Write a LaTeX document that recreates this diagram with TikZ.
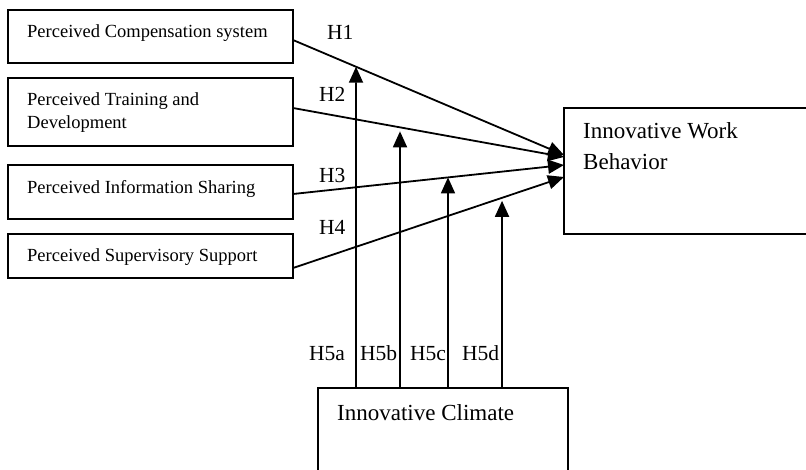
\documentclass[tikz,border=0pt]{standalone}
\usepackage{fontspec}
\setmainfont{Liberation Serif}
\usepackage{tikz}
\usetikzlibrary{arrows.meta, calc, positioning}
\newcommand{\smallfs}{\fontsize{18.5}{23}\selectfont}
\newcommand{\bigfs}{\fontsize{23}{31}\selectfont}
\newcommand{\hypfs}{\fontsize{21.5}{24}\selectfont}

\begin{document}
\begin{tikzpicture}[x=1pt, y=-1pt,
	box/.style={draw, line width=1.3pt, anchor=north west, inner sep=0pt, outer sep=0pt, minimum width=285pt},
	boxtext/.style={anchor=north west, inner sep=0pt, align=left, font=\smallfs},
	bigtext/.style={anchor=north west, inner sep=0pt, align=left, font=\bigfs},
	hyp/.style={line width=1.8pt, -{Triangle[length=16pt, width=14pt]}},
	hyplabel/.style={anchor=base west, inner sep=0pt, font=\hypfs}]

	\useasboundingbox (0,0) rectangle (806,470);
	\clip (0,0) rectangle (806,470);

	\node[box, minimum height=53pt] (pcs) at (8,10) {};
	\node[box, minimum height=68pt] (ptd) at (8,78) {};
	\node[box, minimum height=54pt] (pis) at (8,165) {};
	\node[box, minimum height=44pt] (pss) at (8,234) {};
	\node[box, minimum width=260pt, minimum height=126pt] (iwb) at (564,108) {};
	\node[box, minimum width=250pt, minimum height=120pt] (clim) at (318,388) {};

	\node[boxtext] (pcs-t) at ([xshift=19pt, yshift=-14.5pt]pcs.north west) {Perceived Compensation system};
	\node[boxtext] (ptd-t) at ([xshift=19pt, yshift=-14.5pt]ptd.north west) {Perceived Training and\\Development};
	\node[boxtext] (pis-t) at ([xshift=19pt, yshift=-15.5pt]pis.north west) {Perceived Information Sharing};
	\node[boxtext] (pss-t) at ([xshift=19pt, yshift=-14.5pt]pss.north west) {Perceived Supervisory Support};
	\node[bigtext] (iwb-t) at ([xshift=19pt, yshift=-14.5pt]iwb.north west) {Innovative Work\\Behavior};
	\node[bigtext] (clim-t) at ([xshift=19pt, yshift=-16.5pt]clim.north west) {Innovative Climate};

	\coordinate (s1) at ([yshift=-3.5pt]pcs.east);
	\coordinate (s2) at ([yshift=4pt]ptd.east);
	\coordinate (s3) at ([yshift=-2pt]pis.east);
	\coordinate (s4) at ([yshift=-12pt]pss.east);
	\coordinate (t1) at ([yshift=16pt]iwb.west);
	\coordinate (t2) at ([yshift=14pt]iwb.west);
	\coordinate (t3) at ([yshift=6pt]iwb.west);
	\coordinate (t4) at ([yshift=-6pt]iwb.west);

	\draw[hyp] (s1) -- (t1);
	\draw[hyp] (s2) -- (t2);
	\draw[hyp] (s3) -- (t3);
	\draw[hyp] (s4) -- (t4);

	\coordinate (m1) at ([xshift=38pt]clim.north west);
	\coordinate (m2) at ([xshift=82pt]clim.north west);
	\coordinate (m3) at ([xshift=130pt]clim.north west);
	\coordinate (m4) at ([xshift=184pt]clim.north west);
	\coordinate (u1) at ([yshift=10pt]m1);
	\coordinate (u2) at ([yshift=10pt]m2);
	\coordinate (u3) at ([yshift=10pt]m3);
	\coordinate (u4) at ([yshift=10pt]m4);
	\coordinate (k1) at (intersection of s1--t1 and m1--u1);
	\coordinate (k2) at (intersection of s2--t2 and m2--u2);
	\coordinate (k3) at (intersection of s3--t3 and m3--u3);
	\coordinate (k4) at (intersection of s4--t4 and m4--u4);

	\draw[hyp] (m1) -- (k1);
	\draw[hyp, shorten >=4pt] (m2) -- (k2);
	\draw[hyp] (m3) -- (k3);
	\draw[hyp, shorten >=3pt] (m4) -- (k4);

	\node[hyplabel] (h1) at (327,40) {H1};
	\node[hyplabel] (h2) at (319,102) {H2};
	\node[hyplabel] (h3) at (319,183) {H3};
	\node[hyplabel] (h4) at (319,235) {H4};
	\node[hyplabel] (h5a) at (309,360) {H5a};
	\node[hyplabel] (h5b) at (360,360) {H5b};
	\node[hyplabel] (h5c) at (410,360) {H5c};
	\node[hyplabel] (h5d) at (462,360) {H5d};

\end{tikzpicture}
\end{document}
